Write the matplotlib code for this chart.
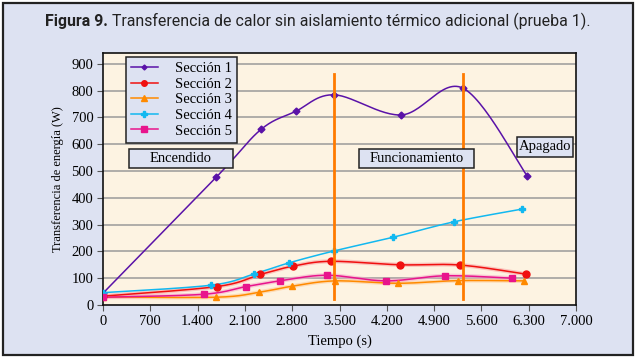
import numpy as np
import matplotlib
matplotlib.use("Agg")
import matplotlib.pyplot as plt
from matplotlib.patches import Rectangle

# Data (time in s, power in W)
t1 = [0, 1677, 2339, 2849, 3422, 4416, 5326, 6276]
s1 = [44, 477, 655, 722, 784, 709, 809, 482]
t2 = [0, 1691, 2329, 2813, 3377, 4392, 5286, 6261]
s2 = [33, 69, 114, 145, 163, 150, 149, 115]
t3 = [0, 1672, 2304, 2798, 3432, 4367, 5261, 6236]
s3 = [30, 29, 47, 70, 90, 81, 91, 90]
t4 = [0, 1602, 2240, 2750, 3425, 4298, 5188, 6206]
s4 = [46, 74, 116, 157, 202, 253, 310, 358]
t5 = [0, 1488, 2122, 2621, 3313, 4188, 5064, 6053]
s5 = [29, 40, 69, 90, 111, 90, 109, 100]

names = ["Sección 1", "Sección 2", "Sección 3", "Sección 4", "Sección 5"]
phase_lines = [3420, 5335]
phase_span = (22, 862)
phase_names = ["Encendido", "Funcionamiento", "Apagado"]

xticks = [0, 700, 1400, 2100, 2800, 3500, 4200, 4900, 5600, 6300, 7000]
xticklabels = ["0", "700", "1.400", "2.100", "2.800", "3.500", "4.200",
               "4.900", "5.600", "6.300", "7.000"]
yticks = list(range(0, 1000, 100))

BG = "#dde2f2"
PLOT_BG = "#fdf3e2"
SERIF = ["Liberation Serif", "DejaVu Serif"]


def smooth(x, y, n=30):
    # Catmull-Rom curve through the points (like Excel's smoothed line)
    x = np.asarray(x, float)
    y = np.asarray(y, float)
    px = np.concatenate([[x[0]], x, [x[-1]]])
    py = np.concatenate([[y[0]], y, [y[-1]]])
    xs, ys = [], []
    t = np.linspace(0, 1, n)
    for i in range(1, len(px) - 2):
        for p, out in ((px, xs), (py, ys)):
            p0, p1, p2, p3 = p[i - 1], p[i], p[i + 1], p[i + 2]
            out.extend(0.5 * ((2 * p1) + (-p0 + p2) * t
                              + (2 * p0 - 5 * p1 + 4 * p2 - p3) * t ** 2
                              + (-p0 + 3 * p1 - 3 * p2 + p3) * t ** 3))
    return np.array(xs), np.array(ys)


fig = plt.figure(figsize=(6.36, 3.59), dpi=100)
fig.patch.set_facecolor("white")
fig.patches.append(Rectangle((3 / 636, 4 / 359), 630 / 636, 352 / 359,
                             transform=fig.transFigure, facecolor=BG,
                             edgecolor="#222222", lw=1.6, zorder=-10))

ax = fig.add_axes([103 / 636, (359 - 305) / 359, 473 / 636, 252 / 359])
ax.set_facecolor(PLOT_BG)
ax.set_xlim(0, 7000)
ax.set_ylim(0, 940)

for y in yticks[1:]:
    ax.axhline(y, color="#9a9a9a", lw=1.1, zorder=1)

series = [
    (t1, s1, "#5a12a8", "D", 3.5, None),
    (t2, s2, "#f01010", "o", 5, "#f8a0a0"),
    (t3, s3, "#ff8a00", "^", 5, "#ffc890"),
    (t4, s4, "#12b8f0", "P", 5, None),
    (t5, s5, "#e8148c", "s", 5, "#f4a8c8"),
]
for (x, y, c, m, ms, halo), name in zip(series, names):
    sx, sy = smooth(x, y)
    if halo:
        ax.plot(sx, sy, color=halo, lw=3, alpha=0.55, zorder=2,
                solid_capstyle="round")
    ax.plot(sx, sy, color=c, lw=1.1, zorder=3)
    ax.plot(x, y, ls="none", marker=m, ms=ms, color=c, zorder=4)
    ax.plot([], [], color=c, lw=1.1, marker=m, ms=ms - 1, label=name)

for xv in phase_lines:
    ax.plot([xv, xv], phase_span, color="#ff7a00", lw=2, zorder=5)

# phase label boxes (axes fraction: x0, y0, w, h)
boxes = [(0.055, 0.544, 0.220, 0.077),
         (0.541, 0.544, 0.243, 0.077),
         (0.875, 0.588, 0.119, 0.080)]
for (bx, by, bw, bh), label in zip(boxes, phase_names):
    ax.add_patch(Rectangle((bx, by), bw, bh, transform=ax.transAxes,
                           facecolor=BG, edgecolor="#222222", lw=1.1,
                           zorder=6))
    ax.text(bx + bw / 2, by + bh / 2, label, transform=ax.transAxes,
            ha="center", va="center", fontsize=10.5, family=SERIF, zorder=7)

leg = ax.legend(loc="upper left", bbox_to_anchor=(0.049, 0.984), frameon=True,
                fancybox=False, framealpha=1, facecolor=BG, edgecolor="#222222",
                prop={"family": SERIF, "size": 10.5}, handlelength=1.8,
                labelspacing=0.16, borderpad=0.35, handletextpad=1.2,
                borderaxespad=0)
leg.get_frame().set_linewidth(1.1)
leg.set_zorder(8)

ax.set_xticks(xticks)
ax.set_xticklabels(xticklabels)
ax.set_yticks(yticks)
ax.tick_params(direction="out", length=4, width=0.8, color="#555555",
               labelsize=10.5, pad=3)
for lab in ax.get_xticklabels() + ax.get_yticklabels():
    lab.set_family(SERIF)
for sp in ax.spines.values():
    sp.set_color("#111111")
    sp.set_linewidth(1.2)

ax.set_xlabel("Tiempo (s)", family=SERIF, fontsize=10.5, labelpad=5)
ax.set_ylabel("Transferencia de energía (W)", family=SERIF, fontsize=9,
              labelpad=5)

# title: bold "Figura 9." followed by regular text, centred as one line
fig.canvas.draw()
r = fig.canvas.get_renderer()
tb = fig.text(0, 0, "Figura 9.", fontsize=11.4, fontweight="bold",
              family="Roboto", color="#222222")
tr = fig.text(0, 0, " Transferencia de calor sin aislamiento térmico adicional (prueba 1).",
              fontsize=11.4, family="Roboto", color="#222222")
wb = tb.get_window_extent(r).width
wr = tr.get_window_extent(r).width
x0 = (636 - wb - wr) / 2 / 636
ty = (359 - 26) / 359
tb.set_position((x0, ty))
tr.set_position((x0 + wb / 636, ty))

fig.savefig("out.png", dpi=100, facecolor=fig.get_facecolor())
